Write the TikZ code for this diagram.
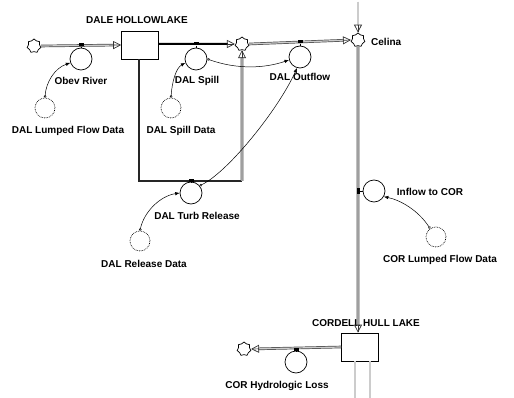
\documentclass[tikz,border=0pt]{standalone}
\usepackage{fontspec}
\setmainfont{Liberation Sans}
\usetikzlibrary{arrows.meta,shapes.symbols,calc}
\begin{document}
\begin{tikzpicture}[x=1pt,y=-1pt,
  lbl/.style={font=\fontsize{10}{12}\selectfont\bfseries, inner sep=0pt},
  stock/.style={draw, line width=0.7pt, minimum width=37pt, minimum height=28pt, inner sep=0pt},
  aux/.style={draw, line width=0.7pt, circle, minimum size=22pt, inner sep=0pt},
  datac/.style={draw, circle, densely dotted, line width=0.7pt, minimum size=20pt, inner sep=0pt},
  src/.style={draw, line width=0.7pt, cloud, cloud puffs=7, minimum width=14pt, minimum height=14pt, inner sep=0pt, aspect=1},
  valve/.style={fill=black, minimum width=5pt, minimum height=3pt, inner sep=0pt},
  pipe/.style={draw=black!70, line width=0.7pt, double=black!20, double distance=1.2pt},
  bigpipe/.style={draw=black, line width=2pt},
  tip/.style={draw=black!80, line width=0.7pt, -{Triangle[open,length=8pt,width=8pt]}},
  link/.style={draw, line width=0.5pt, {Circle[open,length=2.5pt]}-{Latex[length=4.5pt,width=3.5pt]}}
]
\useasboundingbox (0,0) rectangle (514,398);

% stocks
\node[stock] (dhl) at (140,45) {};
\node[lbl] (dhlL) at (137,20) {DALE HOLLOWLAKE};
\node[stock] (cor) at (360,347) {};
\node[lbl] (corL) at (366,323) {CORDELL HULL LAKE};

% sources / junctions
\node[src] (cl1) at (34,46) {};
\node[src] (j1) at (242,44) {};
\node[src] (cel) at (358,40) {};
\node[lbl, anchor=west] (celL) at (371,42) {Celina};
\node[src] (cl2) at (244,349) {};
\coordinate (top) at (358,2);
\coordinate (c1) at (139,181);
\coordinate (c2) at (242,181);
\coordinate (b1) at (355,398);
\coordinate (b2) at (370,398);

% auxiliaries / flows
\node[aux] (obev) at (81,59) {};
\node[lbl] (obevL) at (81,81) {Obev River};
\node[aux] (spill) at (196,59) {};
\node[lbl] (spillL) at (197,81) {DAL Spill};
\node[aux] (out) at (300,57) {};
\node[lbl] (outL) at (300,77) {DAL Outflow};
\node[aux] (turb) at (191,193) {};
\node[lbl] (turbL) at (197,216) {DAL Turb Release};
\node[aux] (inflow) at (374,191) {};
\node[lbl] (inflowL) at (430,192) {Inflow to COR};
\node[aux] (loss) at (296,362) {};
\node[lbl] (lossL) at (277,386) {COR Hydrologic Loss};

% data
\node[datac] (ld) at (45,108) {};
\node[lbl] (ldL) at (68,131) {DAL Lumped Flow Data};
\node[datac] (sd) at (171,108) {};
\node[lbl] (sdL) at (181,131) {DAL Spill Data};
\node[datac] (rd) at (140,241) {};
\node[lbl] (rdL) at (144,264) {DAL Release Data};
\node[datac] (cd) at (436,237) {};
\node[lbl] (cdL) at (440,260) {COR Lumped Flow Data};

% pipes
\draw[pipe, shorten >=7pt] (cl1.east) -- (dhl.west);
\draw[tip] ($(dhl.west)!1pt!(cl1.east)$) -- (dhl.west);
\draw[bigpipe, shorten >=7pt] (dhl.east |- j1) -- (j1.west);
\draw[tip] ($(j1.west)!1pt!(dhl.east |- j1)$) -- (j1.west);
\draw[bigpipe, black!85] (dhl.south -| c1) -- (c1) -- (c2);
\draw[pipe, shorten >=7pt] (c2) -- (j1.south);
\draw[tip] ($(j1.south)!1pt!(c2)$) -- (j1.south);
\draw[pipe, shorten >=7pt] (j1.east) -- (cel.west);
\draw[tip] ($(cel.west)!1pt!(j1.east)$) -- (cel.west);
\draw[pipe, shorten >=7pt] (top) -- (cel.north);
\draw[tip] ($(cel.north)!1pt!(top)$) -- (cel.north);
\draw[pipe, shorten >=7pt] (cel.south) -- (cor.north -| cel);
\draw[tip] ($(cor.north -| cel)!1pt!(cel.south)$) -- (cor.north -| cel);
\draw[pipe, shorten >=7pt] (cor.west) -- (cl2.east);
\draw[tip] ($(cl2.east)!1pt!(cor.west)$) -- (cl2.east);
\draw[pipe] (cor.south -| b1) -- (b1);
\draw[pipe] (cor.south -| b2) -- (b2);

% valves
\node[valve] (v1) at (81,45) {};
\draw (v1) -- (obev.north);
\node[valve] (v2) at (196,44) {};
\draw (v2) -- (spill.north);
\node[valve] (v3) at (300,42) {};
\draw (v3) -- (out.north);
\node[valve] (v4) at (191,181) {};
\draw (v4) -- (turb.north);
\node[valve, minimum width=3pt, minimum height=6pt] (v5) at (358,191) {};
\draw (v5) -- (inflow.west);
\node[valve] (v6) at (296,349) {};
\draw (v6) -- (loss.north);

% links
\draw[link] (ld.north) .. controls (46,82) and (55,68) .. (obev.200);
\draw[link] (sd.north) .. controls (172,82) and (176,68) .. (spill.200);
\draw[link] (rd.north) .. controls (144,212) and (160,196) .. (turb.west);
\draw[link] (turb.40) .. controls (228,172) and (278,110) .. (out.255);
\draw[link] (spill.east) .. controls (238,70) and (266,68) .. (out.195);
\draw[link] (cd.125) .. controls (418,210) and (400,200) .. (inflow.330);
\end{tikzpicture}
\end{document}
